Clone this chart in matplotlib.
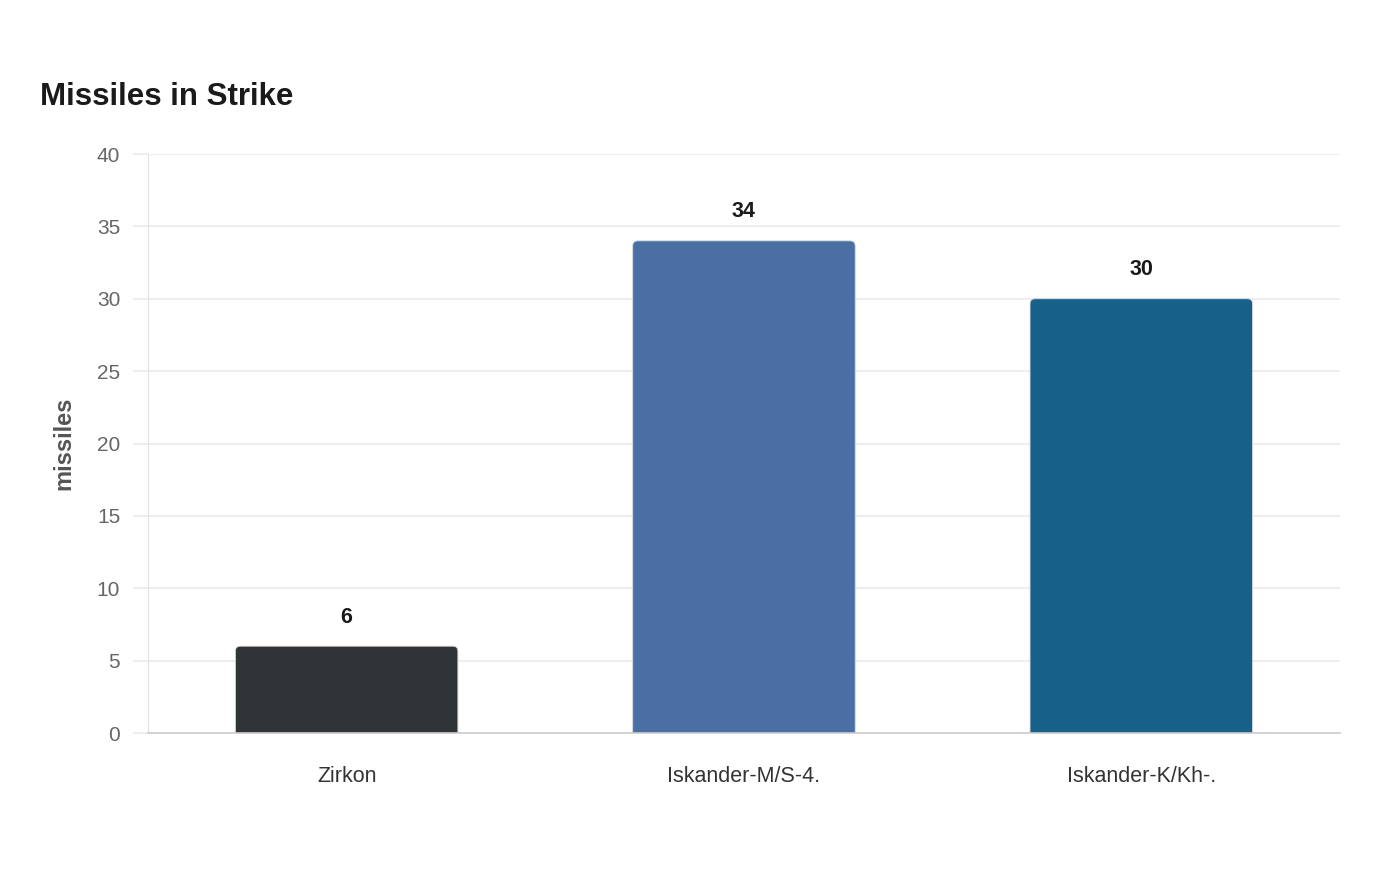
import matplotlib.pyplot as plt
from matplotlib.patches import FancyBboxPatch

plt.rcParams['font.family'] = ['Liberation Sans', 'DejaVu Sans']

# data
categorias = ['Zirkon', 'Iskander-M/S-4.', 'Iskander-K/Kh-.']
valores = [6, 34, 30]
cores = ['#2f3437', '#4a6fa5', '#176087']
yticks = [0, 5, 10, 15, 20, 25, 30, 35, 40]

fig = plt.figure(figsize=(14, 8.8), dpi=100)
ax = fig.add_axes([0.1057, 0.167, 0.8514, 0.658])

x = list(range(len(categorias)))
largura = 0.56
barras = ax.bar(x, valores, width=largura, color=cores, zorder=2)

ax.set_xlim(-0.5, 2.5)
ax.set_ylim(0, 40)

# cantos arredondados (raio ~5 px)
fig.canvas.draw()
bb = ax.get_window_extent()
px_x = bb.width / 3.0
px_y = bb.height / 40.0
raio = 5 / px_x
aspecto = px_x / px_y
for b, c in zip(barras, cores):
    bx, by = b.get_x(), b.get_y()
    bw, bh = b.get_width(), b.get_height()
    b.remove()
    extra = raio * aspecto
    p = FancyBboxPatch((bx, by - extra), bw, bh + extra,
                       boxstyle=f"round,pad=0,rounding_size={raio}",
                       mutation_aspect=aspecto, facecolor=c,
                       edgecolor='#d9d9d9', linewidth=0.6, zorder=2)
    ax.add_patch(p)

for xi, v in zip(x, valores):
    ax.annotate(str(v), (xi, v), xytext=(0, 21), textcoords='offset points',
                ha='center', va='center', fontsize=15.5, fontweight='bold',
                color='#1a1a1a')

ax.set_yticks(yticks)
ax.set_xticks(x)
ax.set_xticklabels(categorias)
ax.grid(axis='y', color='#ebebeb', linewidth=1.2, zorder=0)
ax.tick_params(axis='y', length=11, color='#ebebeb', width=1.2, pad=9,
               labelsize=15, labelcolor='#666666')
ax.tick_params(axis='x', length=0, pad=24, labelsize=15.5, labelcolor='#333333')

for s in ['top', 'right']:
    ax.spines[s].set_visible(False)
ax.spines['left'].set_color('#e0e0e0')
ax.spines['bottom'].set_color('#cccccc')
ax.spines['bottom'].set_linewidth(1.2)
ax.spines['bottom'].set_zorder(3)

ax.set_ylabel('missiles', fontsize=17, fontweight='bold', color='#555555')
ax.yaxis.set_label_coords(-0.061, 0.5)

fig.text(40 / 1400, 1 - 97 / 880, 'Missiles in Strike', fontsize=22.5,
         fontweight='bold', color='#1a1a1a', ha='left', va='center')

fig.savefig('out.png', dpi=100, facecolor='white')
